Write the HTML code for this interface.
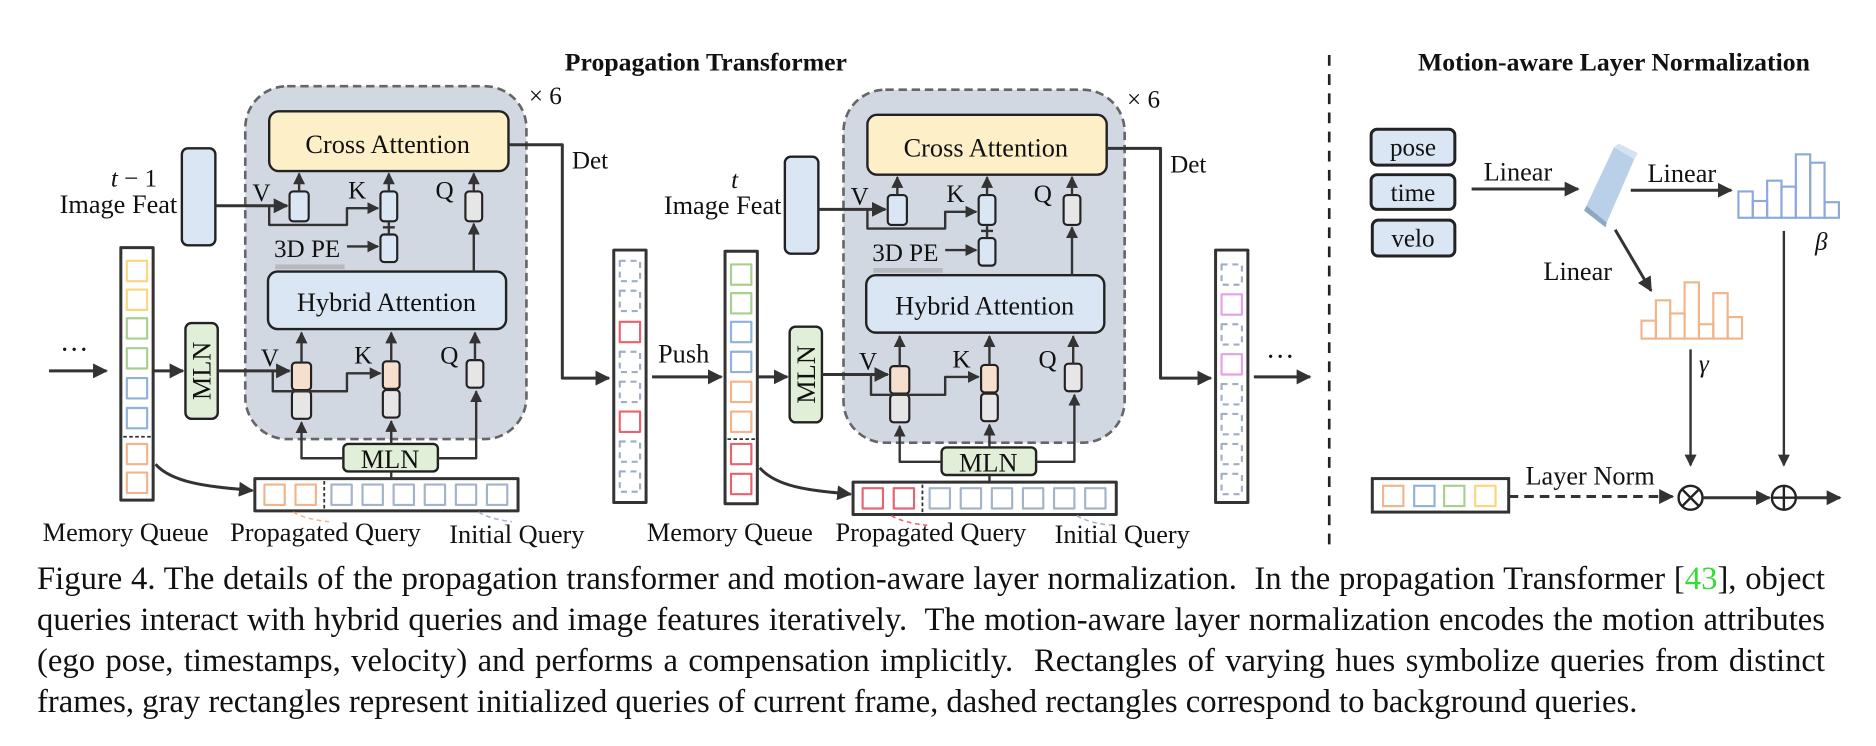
<!DOCTYPE html>
<html><head><meta charset="utf-8"><style>
html,body{margin:0;padding:0;background:#fff;}
body{position:relative;width:1876px;height:746px;overflow:hidden;}
svg{display:block;}
text{font-family:"Liberation Serif",serif;fill:#111;}
#cap{position:absolute;left:37px;top:559px;width:1788px;font-family:"Liberation Serif",serif;font-size:32.66px;line-height:41px;color:#111;}
#cap div{white-space:nowrap;}
#cap .j{text-align:justify;text-align-last:justify;white-space:normal;}
</style></head><body>
<svg width="1876" height="746" viewBox="0 0 1568 623.5" preserveAspectRatio="none" xmlns="http://www.w3.org/2000/svg">
<defs>
<marker id="a" viewBox="0 0 10 10" refX="9" refY="5" markerWidth="5" markerHeight="5" orient="auto"><path d="M0,0L10,5L0,10z" fill="#333"/></marker>
</defs>

<text x="590" y="59" font-size="21.5" font-weight="bold" text-anchor="middle">Propagation Transformer</text>
<text x="1349" y="59" font-size="21.5" font-weight="bold" text-anchor="middle">Motion-aware Layer Normalization</text>
<line x1="1111" y1="46" x2="1111" y2="458" stroke="#222" stroke-width="2.2" stroke-dasharray="9 7"/>

<text x="62" y="300" font-size="24" text-anchor="middle">···</text>
<line x1="41" y1="310" x2="89" y2="310" stroke="#333" stroke-width="2.5" marker-end="url(#a)"/>

<!-- BLOCK 1 -->
<g stroke-linejoin="round">
<rect x="205" y="72" width="235" height="295" rx="35" fill="#d2d8e2" stroke="#666" stroke-width="2.2" stroke-dasharray="7 4"/>
<text x="442" y="87" font-size="21">× 6</text>
<rect x="225" y="93" width="200" height="50" rx="8" fill="#fdefc7" stroke="#222" stroke-width="2"/>
<text x="324" y="128" font-size="22" text-anchor="middle">Cross Attention</text>
<rect x="224" y="227" width="199" height="48" rx="8" fill="#dbe6f4" stroke="#222" stroke-width="2"/>
<text x="323" y="260" font-size="22" text-anchor="middle">Hybrid Attention</text>
<path d="M425,121 H470 V316 H509" fill="none" stroke="#333" stroke-width="2.5" marker-end="url(#a)"/>
<text x="478" y="141" font-size="21">Det</text>
<rect x="152" y="124" width="28" height="81" rx="5" fill="#dbe6f4" stroke="#222" stroke-width="2"/>
<text x="112" y="156" font-size="21" text-anchor="middle"><tspan font-style="italic">t</tspan> − 1</text>
<text x="99" y="178" font-size="22" text-anchor="middle">Image Feat</text>
<rect x="242" y="160" width="16" height="25" rx="3" fill="#dbe6f4" stroke="#222" stroke-width="1.8"/>
<rect x="318" y="160" width="14" height="25" rx="3" fill="#dbe6f4" stroke="#222" stroke-width="1.8"/>
<rect x="318" y="196" width="14" height="23" rx="3" fill="#dbe6f4" stroke="#222" stroke-width="1.8"/>
<rect x="389" y="160" width="14" height="25" rx="3" fill="#e6e6e6" stroke="#222" stroke-width="1.8"/>
<line x1="250" y1="160" x2="250" y2="145" stroke="#333" stroke-width="2" marker-end="url(#a)"/>
<line x1="325" y1="160" x2="325" y2="145" stroke="#333" stroke-width="2" marker-end="url(#a)"/>
<line x1="396" y1="160" x2="396" y2="145" stroke="#333" stroke-width="2" marker-end="url(#a)"/>
<line x1="180" y1="172" x2="240" y2="172" stroke="#333" stroke-width="2.5" marker-end="url(#a)"/>
<path d="M225,172 V188 H290 V174 H316" fill="none" stroke="#333" stroke-width="2" marker-end="url(#a)"/>
<line x1="325" y1="185" x2="325" y2="196" stroke="#333" stroke-width="2"/>
<line x1="320" y1="190" x2="330" y2="190" stroke="#333" stroke-width="2"/>
<text x="229" y="215" font-size="21">3D PE</text>
<rect x="230" y="221" width="58" height="4" fill="#999" opacity="0.5"/>
<line x1="290" y1="206" x2="316" y2="206" stroke="#333" stroke-width="2" marker-end="url(#a)"/>
<line x1="396" y1="227" x2="396" y2="187" stroke="#333" stroke-width="2" marker-end="url(#a)"/>
<text x="211" y="168" font-size="21">V</text>
<text x="291" y="166" font-size="21">K</text>
<text x="364" y="166" font-size="21">Q</text>
<rect x="244" y="303" width="16" height="23" rx="3" fill="#f6dfcc" stroke="#222" stroke-width="1.8"/>
<rect x="244" y="327" width="16" height="23" rx="3" fill="#e6e6e6" stroke="#222" stroke-width="1.8"/>
<rect x="320" y="302" width="14" height="23" rx="3" fill="#f6dfcc" stroke="#222" stroke-width="1.8"/>
<rect x="320" y="326" width="14" height="23" rx="3" fill="#e6e6e6" stroke="#222" stroke-width="1.8"/>
<rect x="390" y="301" width="14" height="23" rx="3" fill="#e6e6e6" stroke="#222" stroke-width="1.8"/>
<line x1="252" y1="303" x2="252" y2="278" stroke="#333" stroke-width="2" marker-end="url(#a)"/>
<line x1="327" y1="302" x2="327" y2="278" stroke="#333" stroke-width="2" marker-end="url(#a)"/>
<line x1="397" y1="301" x2="397" y2="278" stroke="#333" stroke-width="2" marker-end="url(#a)"/>
<text x="218" y="306" font-size="21">V</text>
<text x="296" y="304" font-size="21">K</text>
<text x="368" y="304" font-size="21">Q</text>
<rect x="287" y="371" width="79" height="23" rx="4" fill="#e1eed8" stroke="#222" stroke-width="2"/>
<text x="326" y="391" font-size="22" text-anchor="middle">MLN</text>
<path d="M287,383 H252 V353" fill="none" stroke="#333" stroke-width="2" marker-end="url(#a)"/>
<line x1="327" y1="371" x2="327" y2="352" stroke="#333" stroke-width="2" marker-end="url(#a)"/>
<path d="M366,383 H398 V327" fill="none" stroke="#333" stroke-width="2" marker-end="url(#a)"/>
<line x1="327" y1="394" x2="327" y2="400" stroke="#333" stroke-width="2"/>
<rect x="155" y="270" width="27" height="80" rx="5" fill="#e1eed8" stroke="#222" stroke-width="2"/>
<text x="0" y="0" font-size="22" text-anchor="middle" transform="translate(176,310) rotate(-90)">MLN</text>
<rect x="101" y="207" width="27" height="211" fill="#fff" stroke="#333" stroke-width="2.5"/>
<g fill="none" stroke-width="1.8">
<rect x="106" y="218" width="17" height="17" stroke="#f9d77e"/>
<rect x="106" y="242" width="17" height="17" stroke="#f9d77e"/>
<rect x="106" y="266" width="17" height="17" stroke="#a9cf8f"/>
<rect x="106" y="291" width="17" height="17" stroke="#a9cf8f"/>
<rect x="106" y="316" width="17" height="17" stroke="#8fb1dd"/>
<rect x="106" y="341" width="17" height="17" stroke="#8fb1dd"/>
<rect x="106" y="371" width="17" height="17" stroke="#f2b48a"/>
<rect x="106" y="395" width="17" height="17" stroke="#f2b48a"/>
</g>
<line x1="103" y1="365" x2="126" y2="365" stroke="#333" stroke-width="1.5" stroke-dasharray="3 2"/>
<line x1="128" y1="310" x2="153" y2="310" stroke="#333" stroke-width="2.5" marker-end="url(#a)"/>
<line x1="182" y1="310" x2="242" y2="310" stroke="#333" stroke-width="2.5" marker-end="url(#a)"/>
<path d="M228,310 V327 H290 V312 H318" fill="none" stroke="#333" stroke-width="2" marker-end="url(#a)"/>
<path d="M130,388 C145,405 180,407 211,410" fill="none" stroke="#333" stroke-width="2.5" marker-end="url(#a)"/>
<rect x="213" y="400" width="220" height="27" fill="#fff" stroke="#333" stroke-width="2.5"/>
<g fill="none" stroke-width="1.8">
<rect x="221" y="405" width="17" height="17" stroke="#f2b48a"/>
<rect x="247" y="405" width="17" height="17" stroke="#f2b48a"/>
<rect x="277" y="405" width="17" height="17" stroke="#a3b3c9"/>
<rect x="303" y="405" width="17" height="17" stroke="#a3b3c9"/>
<rect x="329" y="405" width="17" height="17" stroke="#a3b3c9"/>
<rect x="355" y="405" width="17" height="17" stroke="#a3b3c9"/>
<rect x="381" y="405" width="17" height="17" stroke="#a3b3c9"/>
<rect x="407" y="405" width="17" height="17" stroke="#a3b3c9"/>
</g>
<line x1="271" y1="402" x2="271" y2="425" stroke="#333" stroke-width="1.5" stroke-dasharray="3 2"/>
<path d="M245,428 Q255,434 275,436" fill="none" stroke="#f2b48a" stroke-width="1.3" stroke-dasharray="4 3"/>
<path d="M400,428 Q410,434 428,436" fill="none" stroke="#a3b3c9" stroke-width="1.3" stroke-dasharray="4 3"/>
<rect x="513" y="209" width="27" height="211" fill="#fff" stroke="#333" stroke-width="2.5"/>
<g fill="none" stroke-width="1.8">
<rect x="518" y="218" width="17" height="17" stroke="#a0aec4" stroke-dasharray="5 4"/>
<rect x="518" y="243" width="17" height="17" stroke="#a0aec4" stroke-dasharray="5 4"/>
<rect x="518" y="269" width="17" height="17" stroke="#e8636e"/>
<rect x="518" y="294" width="17" height="17" stroke="#a0aec4" stroke-dasharray="5 4"/>
<rect x="518" y="319" width="17" height="17" stroke="#a0aec4" stroke-dasharray="5 4"/>
<rect x="518" y="344" width="17" height="17" stroke="#e8636e"/>
<rect x="518" y="369" width="17" height="17" stroke="#a0aec4" stroke-dasharray="5 4"/>
<rect x="518" y="394" width="17" height="17" stroke="#a0aec4" stroke-dasharray="5 4"/>
</g>
<text x="105" y="452" font-size="22" text-anchor="middle">Memory Queue</text>
<text x="272" y="452" font-size="22" text-anchor="middle">Propagated Query</text>
<text x="432" y="454" font-size="22" text-anchor="middle">Initial Query</text>
</g>

<text x="550" y="303" font-size="22">Push</text>
<line x1="545" y1="315" x2="603" y2="315" stroke="#333" stroke-width="2.5" marker-end="url(#a)"/>

<!-- BLOCK 2 -->
<g transform="translate(500,3)" stroke-linejoin="round">
<rect x="205" y="72" width="235" height="295" rx="35" fill="#d2d8e2" stroke="#666" stroke-width="2.2" stroke-dasharray="7 4"/>
<text x="442" y="87" font-size="21">× 6</text>
<rect x="225" y="93" width="200" height="50" rx="8" fill="#fdefc7" stroke="#222" stroke-width="2"/>
<text x="324" y="128" font-size="22" text-anchor="middle">Cross Attention</text>
<rect x="224" y="227" width="199" height="48" rx="8" fill="#dbe6f4" stroke="#222" stroke-width="2"/>
<text x="323" y="260" font-size="22" text-anchor="middle">Hybrid Attention</text>
<path d="M425,121 H470 V313 H512" fill="none" stroke="#333" stroke-width="2.5" marker-end="url(#a)"/>
<text x="478" y="141" font-size="21">Det</text>
<rect x="156" y="128" width="28" height="81" rx="5" fill="#dbe6f4" stroke="#222" stroke-width="2"/>
<text x="114" y="154" font-size="21" font-style="italic" text-anchor="middle">t</text>
<text x="104" y="176" font-size="22" text-anchor="middle">Image Feat</text>
<rect x="242" y="160" width="16" height="25" rx="3" fill="#dbe6f4" stroke="#222" stroke-width="1.8"/>
<rect x="318" y="160" width="14" height="25" rx="3" fill="#dbe6f4" stroke="#222" stroke-width="1.8"/>
<rect x="318" y="196" width="14" height="23" rx="3" fill="#dbe6f4" stroke="#222" stroke-width="1.8"/>
<rect x="389" y="160" width="14" height="25" rx="3" fill="#e6e6e6" stroke="#222" stroke-width="1.8"/>
<line x1="250" y1="160" x2="250" y2="145" stroke="#333" stroke-width="2" marker-end="url(#a)"/>
<line x1="325" y1="160" x2="325" y2="145" stroke="#333" stroke-width="2" marker-end="url(#a)"/>
<line x1="396" y1="160" x2="396" y2="145" stroke="#333" stroke-width="2" marker-end="url(#a)"/>
<line x1="184" y1="172" x2="240" y2="172" stroke="#333" stroke-width="2.5" marker-end="url(#a)"/>
<path d="M225,172 V188 H290 V174 H316" fill="none" stroke="#333" stroke-width="2" marker-end="url(#a)"/>
<line x1="325" y1="185" x2="325" y2="196" stroke="#333" stroke-width="2"/>
<line x1="320" y1="190" x2="330" y2="190" stroke="#333" stroke-width="2"/>
<text x="229" y="215" font-size="21">3D PE</text>
<rect x="230" y="221" width="58" height="4" fill="#999" opacity="0.5"/>
<line x1="290" y1="206" x2="316" y2="206" stroke="#333" stroke-width="2" marker-end="url(#a)"/>
<line x1="396" y1="227" x2="396" y2="187" stroke="#333" stroke-width="2" marker-end="url(#a)"/>
<text x="211" y="168" font-size="21">V</text>
<text x="291" y="166" font-size="21">K</text>
<text x="364" y="166" font-size="21">Q</text>
<rect x="244" y="303" width="16" height="23" rx="3" fill="#f6dfcc" stroke="#222" stroke-width="1.8"/>
<rect x="244" y="327" width="16" height="23" rx="3" fill="#e6e6e6" stroke="#222" stroke-width="1.8"/>
<rect x="320" y="302" width="14" height="23" rx="3" fill="#f6dfcc" stroke="#222" stroke-width="1.8"/>
<rect x="320" y="326" width="14" height="23" rx="3" fill="#e6e6e6" stroke="#222" stroke-width="1.8"/>
<rect x="390" y="301" width="14" height="23" rx="3" fill="#e6e6e6" stroke="#222" stroke-width="1.8"/>
<line x1="252" y1="303" x2="252" y2="278" stroke="#333" stroke-width="2" marker-end="url(#a)"/>
<line x1="327" y1="302" x2="327" y2="278" stroke="#333" stroke-width="2" marker-end="url(#a)"/>
<line x1="397" y1="301" x2="397" y2="278" stroke="#333" stroke-width="2" marker-end="url(#a)"/>
<text x="218" y="306" font-size="21">V</text>
<text x="296" y="304" font-size="21">K</text>
<text x="368" y="304" font-size="21">Q</text>
<rect x="287" y="371" width="79" height="23" rx="4" fill="#e1eed8" stroke="#222" stroke-width="2"/>
<text x="326" y="391" font-size="22" text-anchor="middle">MLN</text>
<path d="M287,383 H252 V353" fill="none" stroke="#333" stroke-width="2" marker-end="url(#a)"/>
<line x1="327" y1="371" x2="327" y2="352" stroke="#333" stroke-width="2" marker-end="url(#a)"/>
<path d="M366,383 H398 V327" fill="none" stroke="#333" stroke-width="2" marker-end="url(#a)"/>
<line x1="327" y1="394" x2="327" y2="400" stroke="#333" stroke-width="2"/>
<rect x="160" y="270" width="27" height="80" rx="5" fill="#e1eed8" stroke="#222" stroke-width="2"/>
<text x="0" y="0" font-size="22" text-anchor="middle" transform="translate(181,310) rotate(-90)">MLN</text>
<rect x="106" y="207" width="27" height="211" fill="#fff" stroke="#333" stroke-width="2.5"/>
<g fill="none" stroke-width="1.8">
<rect x="111" y="218" width="17" height="17" stroke="#a9cf8f"/>
<rect x="111" y="242" width="17" height="17" stroke="#a9cf8f"/>
<rect x="111" y="266" width="17" height="17" stroke="#8fb1dd"/>
<rect x="111" y="291" width="17" height="17" stroke="#8fb1dd"/>
<rect x="111" y="316" width="17" height="17" stroke="#f2b48a"/>
<rect x="111" y="341" width="17" height="17" stroke="#f2b48a"/>
<rect x="111" y="368" width="17" height="17" stroke="#e8636e"/>
<rect x="111" y="393" width="17" height="17" stroke="#e8636e"/>
</g>
<line x1="108" y1="364" x2="131" y2="364" stroke="#333" stroke-width="1.5" stroke-dasharray="3 2"/>
<line x1="133" y1="312" x2="158" y2="312" stroke="#333" stroke-width="2.5" marker-end="url(#a)"/>
<line x1="187" y1="310" x2="242" y2="310" stroke="#333" stroke-width="2.5" marker-end="url(#a)"/>
<path d="M228,310 V327 H290 V312 H318" fill="none" stroke="#333" stroke-width="2" marker-end="url(#a)"/>
<path d="M135,388 C150,405 180,407 211,410" fill="none" stroke="#333" stroke-width="2.5" marker-end="url(#a)"/>
<rect x="213" y="400" width="220" height="27" fill="#fff" stroke="#333" stroke-width="2.5"/>
<g fill="none" stroke-width="1.8">
<rect x="221" y="405" width="17" height="17" stroke="#e8636e"/>
<rect x="247" y="405" width="17" height="17" stroke="#e8636e"/>
<rect x="277" y="405" width="17" height="17" stroke="#a3b3c9"/>
<rect x="303" y="405" width="17" height="17" stroke="#a3b3c9"/>
<rect x="329" y="405" width="17" height="17" stroke="#a3b3c9"/>
<rect x="355" y="405" width="17" height="17" stroke="#a3b3c9"/>
<rect x="381" y="405" width="17" height="17" stroke="#a3b3c9"/>
<rect x="407" y="405" width="17" height="17" stroke="#a3b3c9"/>
</g>
<line x1="271" y1="402" x2="271" y2="425" stroke="#333" stroke-width="1.5" stroke-dasharray="3 2"/>
<path d="M245,428 Q255,434 275,436" fill="none" stroke="#e8636e" stroke-width="1.3" stroke-dasharray="4 3"/>
<path d="M400,428 Q410,434 428,436" fill="none" stroke="#a3b3c9" stroke-width="1.3" stroke-dasharray="4 3"/>
<rect x="516" y="206" width="27" height="211" fill="#fff" stroke="#333" stroke-width="2.5"/>
<g fill="none" stroke-width="1.8">
<rect x="521" y="218" width="17" height="17" stroke="#a0aec4" stroke-dasharray="5 4"/>
<rect x="521" y="243" width="17" height="17" stroke="#e6a0e6"/>
<rect x="521" y="268" width="17" height="17" stroke="#a0aec4" stroke-dasharray="5 4"/>
<rect x="521" y="293" width="17" height="17" stroke="#e6a0e6"/>
<rect x="521" y="318" width="17" height="17" stroke="#a0aec4" stroke-dasharray="5 4"/>
<rect x="521" y="343" width="17" height="17" stroke="#a0aec4" stroke-dasharray="5 4"/>
<rect x="521" y="368" width="17" height="17" stroke="#a0aec4" stroke-dasharray="5 4"/>
<rect x="521" y="393" width="17" height="17" stroke="#a0aec4" stroke-dasharray="5 4"/>
</g>
<text x="110" y="449" font-size="22" text-anchor="middle">Memory Queue</text>
<text x="278" y="449" font-size="22" text-anchor="middle">Propagated Query</text>
<text x="438" y="451" font-size="22" text-anchor="middle">Initial Query</text>
</g>

<text x="1070" y="306" font-size="24" text-anchor="middle">···</text>
<line x1="1048" y1="315" x2="1095" y2="315" stroke="#333" stroke-width="2.5" marker-end="url(#a)"/>

<!-- RIGHT PANEL -->
<g stroke="#222" stroke-width="2.5" fill="#dbe6f4">
<rect x="1146" y="108" width="70" height="30" rx="5"/>
<rect x="1146" y="146" width="70" height="29" rx="5"/>
<rect x="1147" y="184" width="69" height="30" rx="5"/>
</g>
<text x="1181" y="130" font-size="21" text-anchor="middle">pose</text>
<text x="1181" y="168" font-size="21" text-anchor="middle">time</text>
<text x="1181" y="206" font-size="21" text-anchor="middle">velo</text>
<text x="1240" y="151" font-size="22">Linear</text>
<line x1="1230" y1="158" x2="1319" y2="158" stroke="#333" stroke-width="2.5" marker-end="url(#a)"/>
<polygon points="1326,172 1349,123 1366,133 1343,186" fill="#b9d0e8"/>
<polygon points="1349,123 1366,133 1369,128 1353,120" fill="#d4e3f3"/>
<polygon points="1326,172 1343,186 1342,190 1324,176" fill="#8fa8c2"/>
<text x="1377" y="152" font-size="22">Linear</text>
<line x1="1363" y1="159" x2="1447" y2="159" stroke="#333" stroke-width="2.5" marker-end="url(#a)"/>
<g fill="none" stroke="#8fa8dc" stroke-width="1.8">
<rect x="1453" y="160" width="12" height="22"/>
<rect x="1465" y="168" width="12" height="14"/>
<rect x="1477" y="151" width="12" height="31"/>
<rect x="1489" y="156" width="12" height="26"/>
<rect x="1501" y="129" width="12" height="53"/>
<rect x="1513" y="136" width="12" height="46"/>
<rect x="1525" y="169" width="12" height="13"/>
</g>
<text x="1517" y="209" font-size="21" font-style="italic">β</text>
<text x="1290" y="234" font-size="22">Linear</text>
<line x1="1350" y1="192" x2="1380" y2="243" stroke="#333" stroke-width="2.5" marker-end="url(#a)"/>
<g fill="none" stroke="#f2b48a" stroke-width="1.8">
<rect x="1372" y="268" width="12" height="15"/>
<rect x="1384" y="251" width="12" height="32"/>
<rect x="1396" y="262" width="12" height="21"/>
<rect x="1408" y="236" width="12" height="47"/>
<rect x="1420" y="271" width="12" height="12"/>
<rect x="1432" y="245" width="12" height="38"/>
<rect x="1444" y="265" width="12" height="18"/>
</g>
<text x="1420" y="311" font-size="21" font-style="italic">γ</text>
<line x1="1413" y1="292" x2="1413" y2="389" stroke="#333" stroke-width="2" marker-end="url(#a)"/>
<line x1="1491" y1="193" x2="1491" y2="389" stroke="#333" stroke-width="2" marker-end="url(#a)"/>
<rect x="1147" y="400" width="114" height="28" fill="#fff" stroke="#333" stroke-width="2.5"/>
<g fill="none" stroke-width="1.8">
<rect x="1156" y="406" width="17" height="17" stroke="#f2b48a"/>
<rect x="1182" y="406" width="17" height="17" stroke="#8fb1dd"/>
<rect x="1207" y="406" width="17" height="17" stroke="#a9cf8f"/>
<rect x="1233" y="406" width="17" height="17" stroke="#f9d77e"/>
</g>
<line x1="1261" y1="415" x2="1398" y2="415" stroke="#333" stroke-width="2.5" stroke-dasharray="8 5" marker-end="url(#a)"/>
<text x="1275" y="405" font-size="22">Layer Norm</text>
<circle cx="1413" cy="416" r="10" fill="#fff" stroke="#222" stroke-width="2"/>
<line x1="1406" y1="409" x2="1420" y2="423" stroke="#222" stroke-width="2"/>
<line x1="1420" y1="409" x2="1406" y2="423" stroke="#222" stroke-width="2"/>
<line x1="1423" y1="416" x2="1479" y2="416" stroke="#333" stroke-width="2.5" marker-end="url(#a)"/>
<circle cx="1491" cy="416" r="10" fill="#fff" stroke="#222" stroke-width="2"/>
<line x1="1481" y1="416" x2="1501" y2="416" stroke="#222" stroke-width="2"/>
<line x1="1491" y1="406" x2="1491" y2="426" stroke="#222" stroke-width="2"/>
<line x1="1501" y1="416" x2="1538" y2="416" stroke="#333" stroke-width="2.5" marker-end="url(#a)"/>
</svg>
<div id="cap">
<div class="j">Figure 4. The details of the propagation transformer and motion-aware layer normalization.&nbsp; In the propagation Transformer [<span style="color:#33dd33">43</span>], object</div>
<div class="j">queries interact with hybrid queries and image features iteratively.&nbsp; The motion-aware layer normalization encodes the motion attributes</div>
<div class="j">(ego pose, timestamps, velocity) and performs a compensation implicitly.&nbsp; Rectangles of varying hues symbolize queries from distinct</div>
<div>frames, gray rectangles represent initialized queries of current frame, dashed rectangles correspond to background queries.</div>
</div>
</body></html>
